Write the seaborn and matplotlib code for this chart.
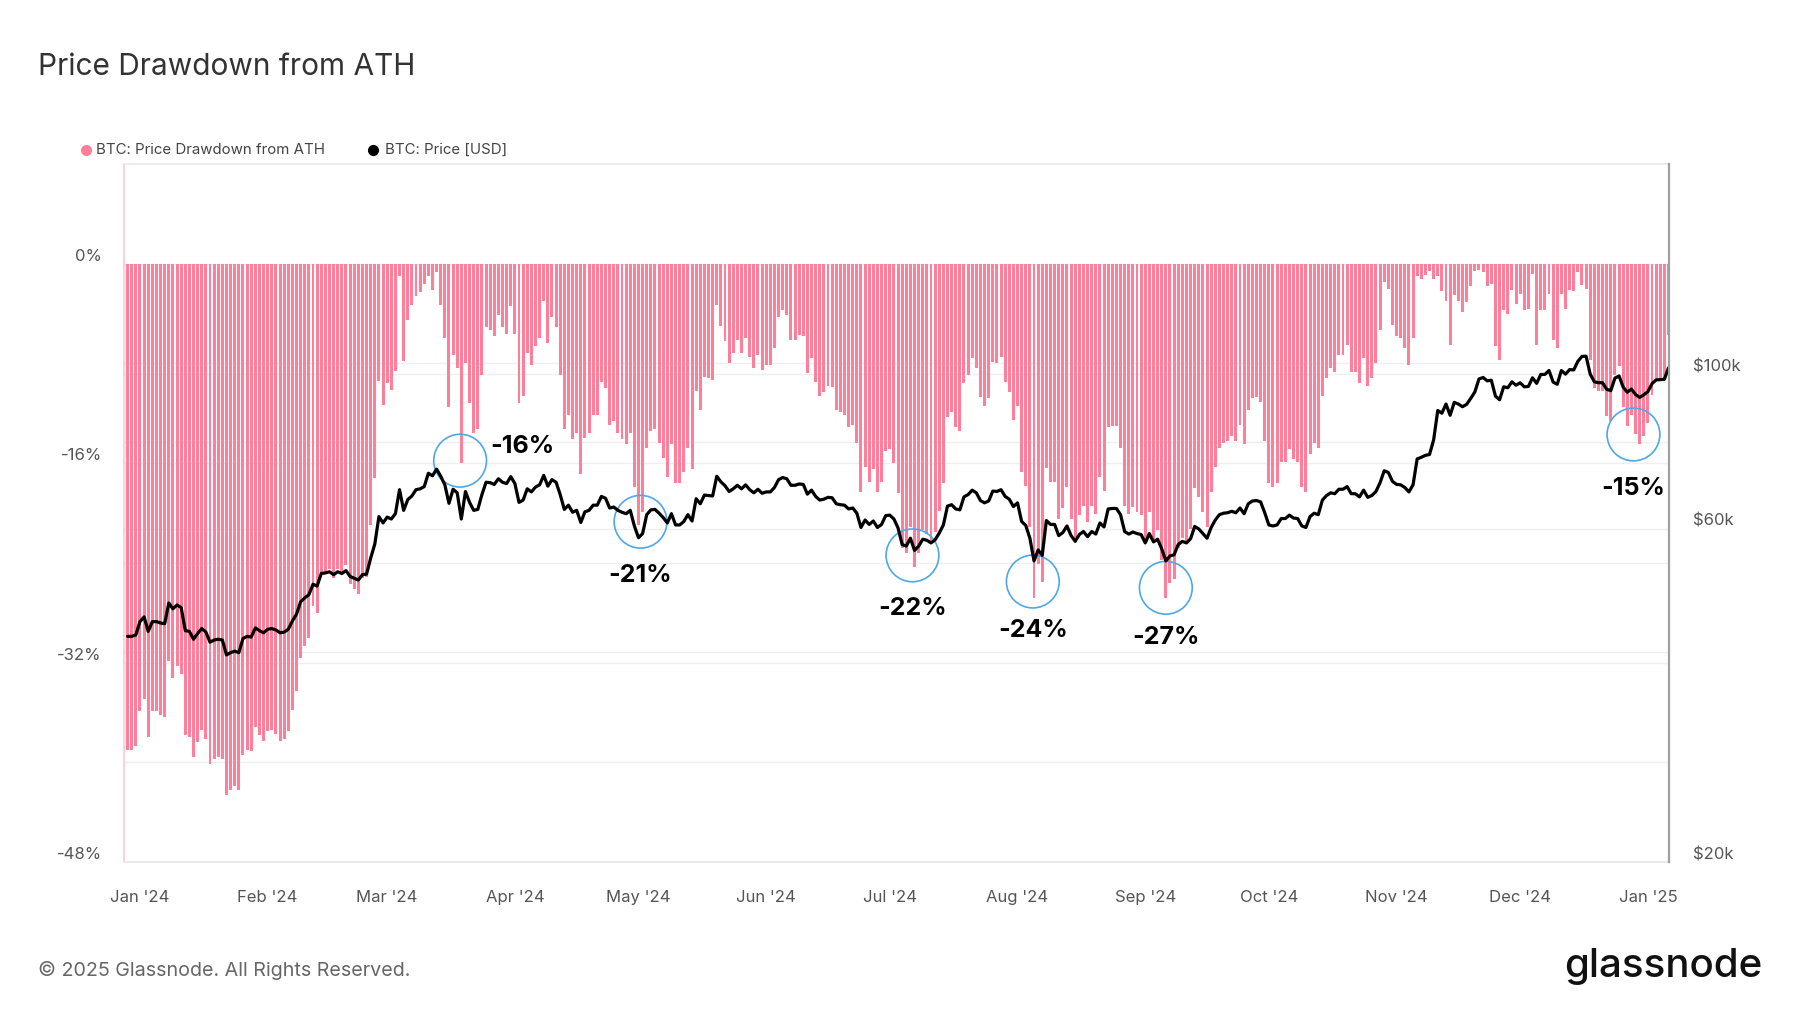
import numpy as np
import pandas as pd
import matplotlib
matplotlib.use("Agg")
import matplotlib.pyplot as plt
import matplotlib.dates as mdates
from matplotlib.lines import Line2D
from matplotlib.ticker import FixedLocator, NullFormatter
from matplotlib.transforms import blended_transform_factory
import seaborn as sns

# BTC daily close in thousand USD, 2023-12-29 .. 2025-01-06
price_k = [
    42.1, 42.1, 42.3,  # dec 23
    44.2, 44.9, 42.8, 44.2, 44.2, 44.0, 43.9, 47.0, 46.1, 46.7, 46.3, 42.9, 42.8, 41.7, 42.5, 43.2,
    42.7, 41.3, 41.6, 41.7, 41.6, 39.6, 39.9, 40.1, 39.9, 41.8, 42.1, 42.0, 43.3, 42.9, 42.6,  # jan
    43.1, 43.2, 43.0, 42.6, 42.7, 43.1, 44.3, 45.3, 47.2, 47.8, 48.3, 50.0, 49.7, 51.8, 51.9,
    52.1, 51.6, 52.1, 51.8, 52.3, 51.3, 51.0, 50.7, 51.6, 51.7, 54.5, 57.1, 62.5, 61.2,  # feb
    62.4, 62.0, 63.1, 68.3, 63.8, 66.1, 66.9, 68.3, 68.5, 69.0, 72.1, 71.5, 73.1, 71.4, 69.4, 65.3,
    68.4, 67.6, 62.0, 67.9, 65.5, 63.8, 64.0, 67.2, 70.0, 69.9, 69.5, 70.8, 70.0, 69.7, 71.3,  # mar
    69.7, 65.5, 66.0, 68.5, 67.8, 68.9, 69.4, 71.6, 69.1, 70.6, 70.0, 67.2, 64.0, 64.9, 63.4,
    63.8, 61.3, 63.5, 63.8, 64.9, 64.9, 66.8, 66.4, 64.3, 64.5, 63.8, 63.4, 63.1, 63.8, 60.6,  # apr
    58.3, 59.1, 62.9, 63.9, 64.0, 63.2, 62.3, 61.2, 63.1, 60.8, 60.8, 61.5, 62.9, 61.6, 66.3, 65.2,
    67.1, 67.0, 66.9, 71.4, 70.1, 69.2, 67.9, 68.5, 69.3, 68.5, 69.4, 68.3, 67.6, 68.4, 67.5,  # may
    67.8, 67.8, 68.8, 70.6, 71.1, 70.8, 69.3, 69.3, 69.6, 69.5, 67.3, 68.2, 66.8, 66.0, 66.2,
    66.6, 66.5, 65.2, 65.0, 64.9, 64.1, 64.3, 63.2, 60.3, 61.8, 60.9, 61.6, 60.3, 60.9, 62.7,  # jun
    62.8, 62.0, 60.2, 57.0, 56.7, 58.2, 55.9, 56.7, 58.0, 57.8, 57.3, 57.9, 59.2, 60.8, 64.7, 65.0,
    64.1, 63.9, 66.7, 67.2, 68.2, 67.6, 65.9, 65.4, 65.8, 68.0, 67.9, 68.3, 66.8, 66.2, 64.6,  # jul
    65.4, 61.5, 60.7, 58.2, 54.0, 56.0, 55.0, 61.7, 60.9, 60.9, 58.7, 59.3, 60.6, 58.7, 57.6, 58.9,
    59.5, 58.5, 59.5, 59.0, 61.2, 60.4, 64.1, 64.2, 64.2, 62.9, 59.5, 59.0, 59.4, 59.1, 58.9,  # aug
    57.3, 59.1, 57.5, 58.0, 56.2, 54.0, 54.9, 55.1, 57.0, 57.6, 57.3, 58.1, 60.5, 60.0, 59.1,
    58.2, 60.3, 61.8, 62.9, 63.2, 63.3, 63.6, 63.3, 64.3, 63.1, 65.2, 65.8, 65.9, 65.6, 63.3,  # sep
    60.8, 60.6, 60.8, 62.1, 62.1, 62.8, 62.2, 62.1, 60.6, 60.3, 62.5, 63.2, 62.9, 66.0, 67.0, 67.6,
    67.4, 68.4, 68.4, 69.0, 67.4, 67.4, 66.7, 68.2, 66.6, 67.0, 67.9, 69.9, 72.7, 72.3, 70.2,  # oct
    69.5, 69.4, 68.8, 67.8, 69.4, 75.6, 76.0, 76.5, 76.7, 80.5, 88.7, 87.9, 90.6, 87.3, 91.1,
    90.6, 89.8, 90.5, 92.3, 94.3, 98.4, 98.9, 97.8, 98.0, 93.0, 91.9, 95.9, 95.6, 97.5, 96.4,  # nov
    97.2, 95.9, 96.0, 98.8, 97.0, 99.9, 99.9, 101.2, 97.4, 96.7, 101.2, 100.0, 101.5, 101.4, 104.3, 106.0,
    106.1, 100.0, 97.5, 97.2, 97.2, 95.1, 94.7, 98.7, 99.4, 95.8, 94.2, 95.2, 93.5, 92.6, 93.4,  # dec
    94.4, 96.9, 98.1, 98.2, 98.3, 102.1,  # jan 25
]

# drawdown from ATH in percent, same days
drawdown_pct = [
    -39.0, -39.0, -38.7,
    -35.9, -34.9, -38.0, -35.9, -35.9, -36.2, -36.4, -31.9, -33.2, -32.3, -32.9, -37.8, -38.0, -39.6, -38.4, -37.4,
    -38.1, -40.1, -39.7, -39.6, -39.7, -42.6, -42.2, -41.9, -42.2, -39.4, -39.0, -39.1, -37.2, -37.8, -38.3,
    -37.5, -37.4, -37.7, -38.3, -38.1, -37.5, -35.8, -34.3, -31.6, -30.7, -30.0, -27.5, -28.0, -24.9, -24.8,
    -24.5, -25.2, -24.5, -24.9, -24.2, -25.7, -26.1, -26.5, -25.2, -25.1, -21.0, -17.2, -9.4, -11.3,
    -9.6, -10.1, -8.6, -1.0, -7.8, -4.5, -3.3, -2.6, -2.3, -1.6, -1.0, -2.1, -0.7, -3.3, -6.0, -11.5,
    -7.3, -8.4, -16.0, -8.0, -11.2, -13.6, -13.3, -8.9, -5.1, -5.3, -5.8, -4.1, -5.1, -5.6, -3.4,
    -5.6, -11.2, -10.6, -7.2, -8.1, -6.6, -6.0, -3.0, -6.4, -4.3, -5.1, -8.9, -13.3, -12.1, -14.1,
    -13.6, -16.9, -14.0, -13.6, -12.1, -12.1, -9.5, -10.0, -12.9, -12.6, -13.6, -14.1, -14.5, -13.6, -17.9,
    -21.0, -19.9, -14.8, -13.4, -13.3, -14.4, -15.6, -17.1, -14.5, -17.6, -17.6, -16.7, -14.8, -16.5, -10.2, -11.7,
    -9.1, -9.2, -9.3, -3.3, -5.0, -6.2, -8.0, -7.2, -6.1, -7.2, -6.0, -7.5, -8.4, -7.3, -8.5,
    -8.1, -8.1, -6.8, -4.3, -3.7, -4.1, -6.1, -6.1, -5.7, -5.8, -8.8, -7.6, -9.5, -10.6, -10.3,
    -9.8, -9.9, -11.7, -11.9, -12.1, -13.1, -12.9, -14.4, -18.3, -16.3, -17.5, -16.5, -18.3, -17.5, -15.0,
    -14.9, -16.0, -18.4, -22.8, -23.2, -21.1, -24.3, -23.2, -21.4, -21.7, -22.4, -21.5, -19.8, -17.6, -12.3, -11.9,
    -13.1, -13.4, -9.6, -8.9, -7.6, -8.4, -10.7, -11.4, -10.8, -7.9, -8.0, -7.5, -9.5, -10.3, -12.5,
    -11.4, -16.7, -17.8, -21.1, -26.8, -24.1, -25.5, -16.4, -17.5, -17.5, -20.5, -19.6, -17.9, -20.5, -22.0, -20.2,
    -19.4, -20.7, -19.4, -20.1, -17.1, -18.2, -13.1, -13.0, -13.0, -14.8, -19.4, -20.1, -19.5, -19.9, -20.2,
    -22.4, -19.9, -22.1, -21.4, -23.8, -26.8, -25.6, -25.3, -22.8, -22.0, -22.4, -21.3, -18.0, -18.7, -19.9,
    -21.1, -18.3, -16.3, -14.8, -14.4, -14.2, -13.8, -14.2, -12.9, -14.5, -11.7, -10.8, -10.7, -11.1, -14.2,
    -17.6, -17.9, -17.6, -15.9, -15.9, -14.9, -15.7, -15.9, -17.9, -18.3, -15.3, -14.4, -14.8, -10.6, -9.2, -8.4,
    -8.7, -7.3, -7.3, -6.5, -8.7, -8.7, -9.6, -7.6, -9.8, -9.2, -8.0, -5.3, -1.5, -2.0, -4.9,
    -5.8, -6.0, -6.8, -8.1, -6.0, -1.0, -1.2, -0.9, -0.6, -1.2, -1.0, -2.2, -3.0, -6.5, -2.5,
    -3.0, -3.9, -3.1, -1.8, -0.6, -0.5, -0.7, -1.8, -1.6, -6.6, -7.7, -3.7, -4.0, -2.1, -3.2,
    -2.4, -3.7, -3.6, -0.8, -6.5, -3.7, -3.7, -2.4, -6.1, -6.8, -2.4, -3.6, -2.1, -2.2, -0.7, -1.7,
    -2.0, -7.7, -10.0, -10.2, -10.2, -12.2, -12.6, -8.9, -8.2, -11.5, -13.0, -12.1, -13.7, -14.5, -13.8,
    -12.8, -10.5, -9.4, -9.3, -9.2, -5.7,
]

assert len(price_k) == len(drawdown_pct), (len(price_k), len(drawdown_pct))

# callouts: circle centre (date, drawdown) and label
callout_dates = ["2024-03-18 17:00", "2024-05-01 12:00", "2024-07-06 12:00",
                 "2024-08-04 17:00", "2024-09-06 00:00", "2024-12-28 12:00"]
callout_dd = [-15.8, -20.7, -23.4, -25.5, -26.0, -13.7]
callout_labels = ["-16%", "-21%", "-22%", "-24%", "-27%", "-15%"]
callout_offsets = [(45, 10), (0, -39), (0, -38.5), (0, -35), (0, -36), (0, -39)]

dd_ticks = [0, -16, -32, -48]
dd_tick_labels = ["0%", "-16%", "-32%", "-48%"]
price_ticks = [20000, 60000, 100000]
price_tick_labels = ["$20k", "$60k", "$100k"]

PINK = "#ff7f9b"
dates = pd.date_range("2023-12-29", periods=len(price_k), freq="D")
price = np.array(price_k) * 1000

sns.set_theme(style="white")
plt.rcParams["font.family"] = ["Inter", "DejaVu Sans"]

fig = plt.figure(figsize=(18, 10.13), dpi=100)
W, H = 1800, 1013
ax = fig.add_axes([124 / W, 151 / H, 1545 / W, 698 / H])
ax2 = ax.twinx()

# drawdown bars
ax.bar(dates, drawdown_pct, width=0.72, color=PINK, linewidth=0, zorder=2)
ax.set_ylim(-48, 8)
ax.set_xlim(pd.Timestamp("2023-12-28 03:00"), pd.Timestamp("2025-01-06 03:00"))

# price line (log)
ax2.set_yscale("log")
sns.lineplot(x=dates, y=price, ax=ax2, color="black", linewidth=2.3)
ax2.set_ylim(20000, 200000)
ax2.set_ylabel("")
ax.set_ylabel("")
ax.set_xlabel("")

# grid lines
ax.yaxis.set_major_locator(FixedLocator(dd_ticks))
ax.set_yticklabels(dd_tick_labels)
ax.yaxis.set_minor_locator(FixedLocator([-8, -24, -40]))
ax.grid(True, which="both", axis="y", color="#efefef", linewidth=1)
ax.grid(False, axis="x")
ax.set_axisbelow(True)
gtrans = blended_transform_factory(ax.transAxes, ax2.transData)
for v in [40000, 60000, 80000, 100000]:
    ax.add_artist(Line2D([0, 1], [v, v], transform=gtrans, color="#efefef", linewidth=1, zorder=0.5))

ax2.yaxis.set_major_locator(FixedLocator(price_ticks))
ax2.set_yticklabels(price_tick_labels)
ax2.yaxis.set_minor_locator(FixedLocator([]))
ax2.yaxis.set_minor_formatter(NullFormatter())
ax2.grid(False)

ax.xaxis.set_major_locator(mdates.MonthLocator())
ax.xaxis.set_major_formatter(mdates.DateFormatter("%b '%y"))

ax.tick_params(axis="y", which="both", length=0, pad=16, labelsize=12, labelcolor="#555555")
ax.tick_params(axis="x", length=10, width=1, color="#e6e6e6", pad=10, labelsize=12, labelcolor="#555555")
ax2.tick_params(axis="y", which="both", length=0, pad=17, labelsize=12, labelcolor="#555555")
plt.setp(ax.get_yticklabels(), va="bottom")
plt.setp(ax2.get_yticklabels(), va="bottom")

for s in ["top", "bottom"]:
    ax.spines[s].set_color("#e8e8e8")
ax.spines["left"].set_color("#ffc9d5")
ax.spines["right"].set_visible(False)
for s in ["top", "bottom", "left"]:
    ax2.spines[s].set_visible(False)
ax2.spines["right"].set_color("#a0a0a0")
ax2.spines["right"].set_linewidth(1.6)

# callouts
for d, y, lab, off in zip(callout_dates, callout_dd, callout_labels, callout_offsets):
    x = mdates.date2num(pd.Timestamp(d))
    ax.scatter([x], [y], s=1444, facecolors="none", edgecolors="#4ea8e6", linewidths=1.2, zorder=5)
    ax.annotate(lab, xy=(x, y), xytext=off, textcoords="offset points", ha="center", va="center",
                fontsize=18, fontweight="bold", color="black", zorder=6)

# title, legend, footer
fig.text(38 / W, 1 - 67 / H, "Price Drawdown from ATH", fontsize=21.5, color="#333333", va="center")
ly = 1 - 150 / H
fig.add_artist(Line2D([86 / W], [ly], marker="o", markersize=7, color=PINK, linestyle="", transform=fig.transFigure))
fig.text(96 / W, ly, "BTC: Price Drawdown from ATH", fontsize=10.8, color="#444444", va="center")
fig.add_artist(Line2D([373 / W], [ly], marker="o", markersize=7, color="black", linestyle="", transform=fig.transFigure))
fig.text(385 / W, ly, "BTC: Price [USD]", fontsize=10.8, color="#444444", va="center")

fig.text(38 / W, 1 - 970 / H, "\u00a9 2025 Glassnode. All Rights Reserved.", fontsize=14.2, color="#666666", va="center")
fig.text(1762 / W, 1 - 966 / H, "glassnode", fontsize=29, color="#111111", ha="right", va="center", fontweight="medium")

fig.savefig("out.png", dpi=100)
